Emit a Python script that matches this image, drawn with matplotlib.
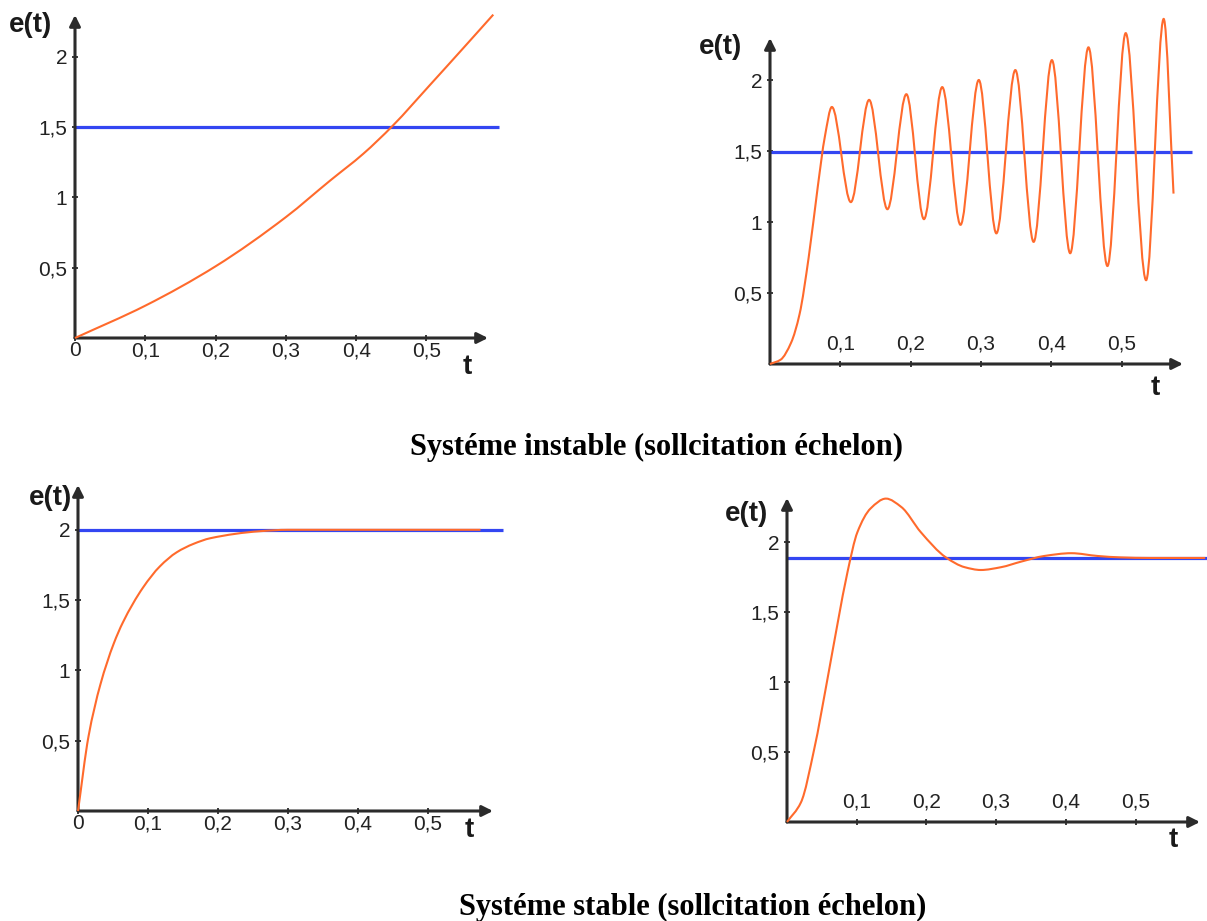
import numpy as np
import matplotlib
matplotlib.use('Agg')
import matplotlib.pyplot as plt
from matplotlib.path import Path
from matplotlib.patches import PathPatch

W, H = 1207, 921
ORANGE = '#ff6a2c'
BLUE = '#3346f2'
AXIS = '#2b2b2b'

# ---- values ----
# top left: unstable, monotonic divergence
t_div = [0, 0.1, 0.2, 0.3, 0.363, 0.41, 0.452, 0.505, 0.552, 0.595]
e_div = [0, 0.23, 0.51, 0.86, 1.12, 1.31, 1.51, 1.80, 2.06, 2.30]
ref_div = 1.5

# top right: unstable, growing oscillation
t_osc = [0, 0.015, 0.03, 0.042, 0.055, 0.068, 0.078,
         0.088, 0.115, 0.141, 0.167, 0.194, 0.219, 0.245, 0.271,
         0.297, 0.322, 0.349, 0.375, 0.401, 0.427, 0.453, 0.480,
         0.506, 0.535, 0.560, 0.574]
e_osc = [0, 0.03, 0.15, 0.35, 0.75, 1.25, 1.6,
         1.81, 1.14, 1.86, 1.09, 1.90, 1.02, 1.95, 0.98,
         2.00, 0.92, 2.07, 0.86, 2.14, 0.78, 2.23, 0.69,
         2.33, 0.59, 2.43, 1.20]
ref_osc = 1.49

# bottom left: stable, first order
t_exp = [0, 0.015, 0.032, 0.051, 0.064, 0.093, 0.117, 0.141, 0.165, 0.189,
         0.26, 0.3, 0.575]
e_exp = [0, 0.53, 0.90, 1.19, 1.34, 1.59, 1.74, 1.84, 1.90, 1.94,
         1.99, 2.0, 2.0]
ref_exp = 2.0

# bottom right: stable, damped oscillation
t_damp = [0, 0.02, 0.039, 0.058, 0.073, 0.087, 0.101, 0.12, 0.142, 0.164,
          0.192, 0.228, 0.255, 0.278, 0.307, 0.336, 0.369, 0.408, 0.446,
          0.479, 0.52, 0.60]
e_damp = [0, 0.14, 0.52, 1.02, 1.43, 1.79, 2.07, 2.24, 2.31, 2.25,
          2.07, 1.89, 1.82, 1.80, 1.82, 1.86, 1.90, 1.92, 1.90,
          1.89, 1.886, 1.886]
ref_damp = 1.886

x_ticks = [0.1, 0.2, 0.3, 0.4, 0.5]
x_labels = ['0,1', '0,2', '0,3', '0,4', '0,5']
y_ticks = [0.5, 1, 1.5, 2]
y_labels = ['0,5', '1', '1,5', '2']

titles = ['Systéme instable (sollcitation échelon)',
          'Systéme stable (sollcitation échelon)']


def smooth_path(x, y):
    # monotone cubic (pchip style) bezier through the read points
    x = np.asarray(x, float)
    y = np.asarray(y, float)
    h = np.diff(x)
    delta = np.diff(y) / h
    d = np.zeros_like(y)
    d[0], d[-1] = delta[0], delta[-1]
    for k in range(1, len(x) - 1):
        if delta[k-1] * delta[k] > 0:
            w1 = 2*h[k] + h[k-1]
            w2 = h[k] + 2*h[k-1]
            d[k] = (w1 + w2) / (w1/delta[k-1] + w2/delta[k])
    verts = [(x[0], y[0])]
    codes = [Path.MOVETO]
    for k in range(len(h)):
        verts += [(x[k] + h[k]/3, y[k] + d[k]*h[k]/3),
                  (x[k+1] - h[k]/3, y[k+1] - d[k+1]*h[k]/3),
                  (x[k+1], y[k+1])]
        codes += [Path.CURVE4] * 3
    return Path(verts, codes)


def make_axes(fig, ox, oy, x_tip, y_tip, sx, sy):
    # ox, oy: origin pixel; sx px per 0.1 of t, sy px per 0.5 of e
    ax = fig.add_axes([ox / W, (H - oy) / H, (x_tip - ox) / W, (oy - y_tip) / H])
    ax.set_xlim(0, (x_tip - ox) / sx * 0.1)
    ax.set_ylim(0, (oy - y_tip) / sy * 0.5)
    ax.patch.set_alpha(0)
    for sp in ax.spines.values():
        sp.set_visible(False)
    ax.annotate('', xy=(1, 0), xytext=(0, 0), xycoords='axes fraction',
                arrowprops=dict(arrowstyle='-|>', color=AXIS, lw=2.2,
                                mutation_scale=16, shrinkA=0, shrinkB=0))
    ax.annotate('', xy=(0, 1), xytext=(0, 0), xycoords='axes fraction',
                arrowprops=dict(arrowstyle='-|>', color=AXIS, lw=2.2,
                                mutation_scale=16, shrinkA=0, shrinkB=0))
    return ax


def draw_panel(ax, t, e, ref, ref_end, inside):
    ax.plot([0, ref_end], [ref, ref], color=BLUE, lw=2.3, clip_on=False,
            zorder=2, solid_capstyle='butt')
    ax.add_patch(PathPatch(smooth_path(t, e), fill=False, edgecolor=ORANGE,
                           lw=1.5, clip_on=False, zorder=3))
    ax.xaxis.set_ticks_position('bottom')
    ax.yaxis.set_ticks_position('left')
    if inside:
        ax.set_xticks(x_ticks, labels=x_labels)
        ax.tick_params(axis='x', pad=-24)
    else:
        ax.set_xticks([0] + x_ticks, labels=['0'] + x_labels)
        ax.tick_params(axis='x', pad=0)
    ax.set_yticks(y_ticks, labels=y_labels)
    ax.tick_params(direction='inout', length=5, width=1.3, color=AXIS,
                   labelsize=15, labelcolor='#222222')
    ax.tick_params(axis='y', pad=3)


def label(fig, x, y, s, **kw):
    fig.text(x / W, 1 - y / H, s, ha='center', va='center', **kw)


plt.rcParams['font.family'] = 'Liberation Sans'
fig = plt.figure(figsize=(W / 100, H / 100), dpi=100)

ax1 = make_axes(fig, 75, 338, 488, 15, 70.3, 70.3)
draw_panel(ax1, t_div, e_div, ref_div, 0.603, inside=False)

ax2 = make_axes(fig, 770, 364, 1183, 38, 70.3, 71.0)
draw_panel(ax2, t_osc, e_osc, ref_osc, 0.60, inside=True)

ax3 = make_axes(fig, 78, 811, 493, 485, 70.0, 70.3)
draw_panel(ax3, t_exp, e_exp, ref_exp, 0.607, inside=False)

ax4 = make_axes(fig, 787, 822, 1200, 498, 69.7, 70.0)
draw_panel(ax4, t_damp, e_damp, ref_damp, 0.603, inside=True)

# axis names
for (xe, ye), (xt, yt) in [((30, 25), (467, 367)), ((721, 47), (1155, 388)),
                           ((50, 498), (469, 830)), ((746, 514), (1173, 840))]:
    label(fig, xe, ye, 'e(t)', fontsize=20, fontweight='bold', color='#1a1a1a')
    label(fig, xt, yt, 't', fontsize=20, fontweight='bold', color='#1a1a1a')

label(fig, 657, 447, titles[0], fontsize=22, fontweight='bold',
      family='Liberation Serif')
label(fig, 693, 907, titles[1], fontsize=22, fontweight='bold',
      family='Liberation Serif')

fig.savefig('out.png', dpi=100)
